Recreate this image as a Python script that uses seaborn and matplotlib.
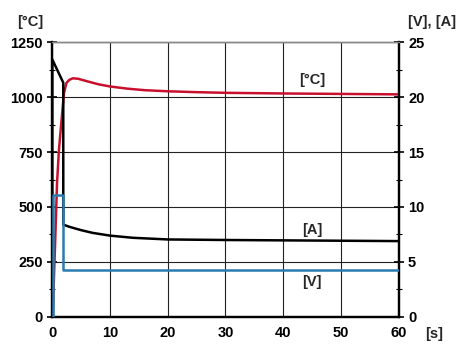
import matplotlib
matplotlib.use("Agg")
import matplotlib.pyplot as plt
import seaborn as sns
import pandas as pd
from matplotlib.ticker import MultipleLocator

# temperature [°C] vs time [s]
t_temp = [0.15, 0.3, 0.5, 0.87, 1.2, 1.7, 2.07, 2.5, 3.0, 3.6, 4.5, 6, 8, 10, 13, 16, 20, 25, 30, 40, 50, 60]
temp = [0, 150, 305, 609, 760, 909, 1018, 1064, 1078, 1085, 1083, 1072, 1058, 1048, 1038, 1031, 1026, 1022, 1019, 1016, 1014, 1012]

# current [A]
t_amp = [0.05, 0.06, 1.95, 1.95, 3, 5, 7, 10, 14, 20, 30, 45, 60]
amp = [0, 23.4, 21.3, 8.4, 8.2, 7.9, 7.65, 7.4, 7.2, 7.05, 7.0, 6.95, 6.9]

# voltage [V]
t_volt = [0.1, 0.1, 1.95, 1.95, 60]
volt = [0, 11.1, 11.1, 4.3, 4.3]

sns.set_style("white")
plt.rcParams['font.family'] = ['Liberation Sans', 'DejaVu Sans']
plt.rcParams['font.weight'] = 'bold'
plt.rcParams['font.size'] = 10.5

fig = plt.figure(figsize=(4.61, 3.59), dpi=100)
ax = fig.add_axes([0.1128, 0.117, 0.7527, 0.766])
ax2 = ax.twinx()

df_t = pd.DataFrame({'t': t_temp, 'v': temp})
df_a = pd.DataFrame({'t': t_amp, 'v': amp})
df_v = pd.DataFrame({'t': t_volt, 'v': volt})

sns.lineplot(data=df_t, x='t', y='v', ax=ax, color='#c8102e', lw=1.8, sort=False, estimator=None, zorder=3)
sns.lineplot(data=df_a, x='t', y='v', ax=ax2, color='black', lw=1.8, sort=False, estimator=None, zorder=3)
sns.lineplot(data=df_v, x='t', y='v', ax=ax2, color='#2a7bb0', lw=1.8, sort=False, estimator=None, zorder=3)

ax.set_xlim(0, 60)
ax.set_ylim(0, 1250)
ax2.set_ylim(0, 25)
ax.set_xlabel('')
ax.set_ylabel('')
ax2.set_ylabel('')

ax.xaxis.set_major_locator(MultipleLocator(10))
ax.xaxis.set_minor_locator(MultipleLocator(5))
ax.yaxis.set_major_locator(MultipleLocator(250))
ax.yaxis.set_minor_locator(MultipleLocator(125))
ax2.yaxis.set_major_locator(MultipleLocator(5))
ax2.yaxis.set_minor_locator(MultipleLocator(2.5))

ax.grid(True, which='major', color='#222222', lw=0.8)
ax.set_axisbelow(True)

for a in (ax, ax2):
    a.tick_params(which='major', direction='inout', length=7, width=1.2, colors='black', labelsize=10.5, pad=3)
    a.tick_params(which='minor', direction='inout', length=5, width=0.8, colors='black')
    a.spines['top'].set_color('#888888')
    a.spines['top'].set_linewidth(1.0)
    for s in ('left', 'right', 'bottom'):
        a.spines[s].set_color('black')
        a.spines[s].set_linewidth(1.6)
ax.tick_params(which='both', top=False, right=False)
ax2.tick_params(which='both', left=False)

for lbl in ax.get_xticklabels() + ax.get_yticklabels() + ax2.get_yticklabels():
    lbl.set_fontweight('bold')

ax.text(45, 1077, '[°C]', ha='center', va='center', fontweight='bold', fontsize=10.5)
ax2.text(45, 7.9, '[A]', ha='center', va='center', fontweight='bold', fontsize=10.5)
ax2.text(45, 3.2, '[V]', ha='center', va='center', fontweight='bold', fontsize=10.5)

fig.text(30 / 461, 1 - 22 / 359, '[°C]', ha='center', va='center', fontweight='bold', fontsize=10.5)
fig.text(432 / 461, 1 - 22 / 359, '[V], [A]', ha='center', va='center', fontweight='bold', fontsize=10.5)
fig.text(434 / 461, 1 - 334 / 359, '[s]', ha='center', va='center', fontweight='bold', fontsize=10.5)

fig.savefig('out.png', dpi=100)
